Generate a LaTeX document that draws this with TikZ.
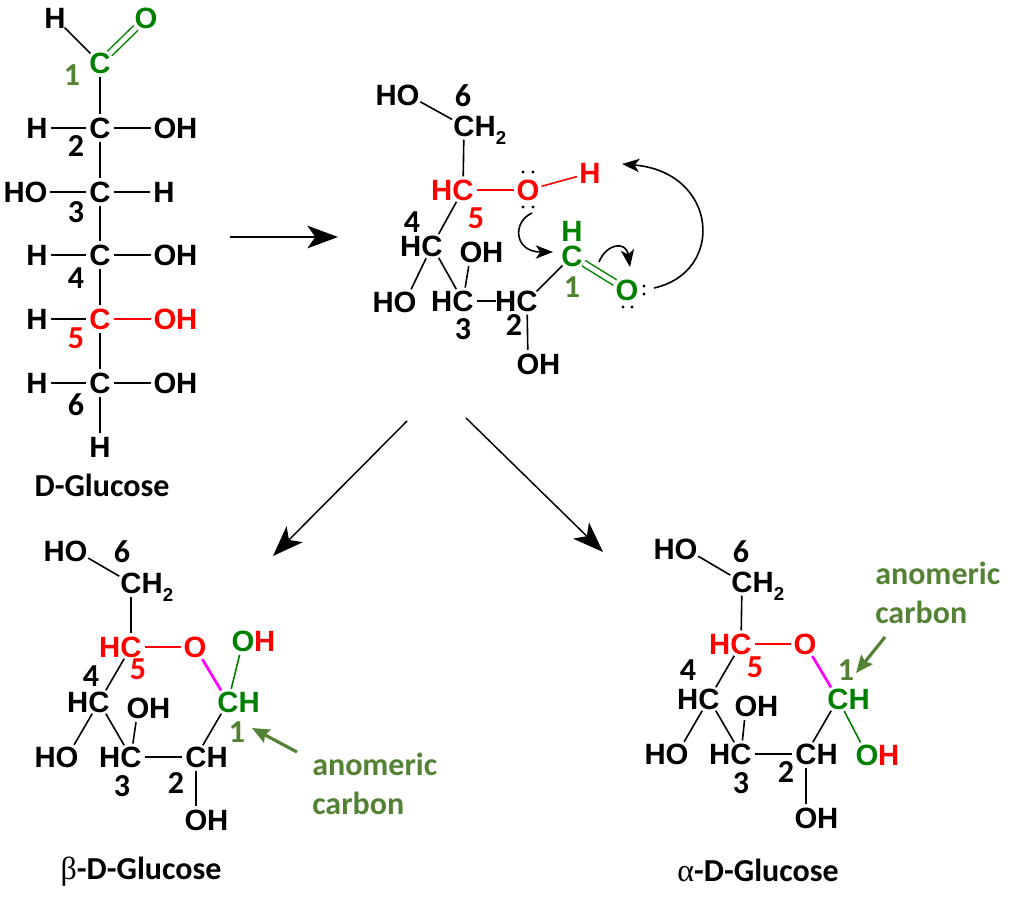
\documentclass[tikz,border=0pt]{standalone}
\usepackage{fontspec}
\usepackage{xcolor}
\usetikzlibrary{arrows.meta}
\setmainfont{Carlito}
\newfontfamily\atomfam{Liberation Sans}
\newfontfamily\greekfam{Liberation Serif}
\definecolor{chemgreen}{RGB}{0,128,0}
\definecolor{numgreen}{RGB}{84,130,53}
\definecolor{ringpink}{RGB}{255,0,255}
\tikzset{
  atomtext/.style={inner sep=0pt,outer sep=0pt,text height=15.7pt,text depth=0pt,
    font=\atomfam\bfseries\fontsize{22}{26}\selectfont},
  atom/.style={atomtext,circle,outer sep=-1pt,text=#1},
  atom/.default=black,
  Hl/.style={label={[atomtext,text=#1,label distance=-2.2pt]180:H}},
  Hl/.default=black,
  Hr/.style={label={[atomtext,text=#1,label distance=-2.2pt]0:H}},
  Hr/.default=black,
  CHtwo/.style={label={[atomtext,label distance=-2.2pt]0:H\raisebox{-6pt}{\fontsize{14}{16}\selectfont 2}}},
  num/.style={inner sep=0pt,text=#1,font=\bfseries\fontsize{24}{28}\selectfont},
  num/.default=black,
  glucose/.style={inner sep=0pt,font=\bfseries\fontsize{24}{28}\selectfont},
  anomeric/.style={anchor=west,inner sep=0pt,text=numgreen,font=\bfseries\fontsize{24}{28}\selectfont},
  bond/.style={line width=1.2pt,draw=#1},
  bond/.default=black,
  dbond/.style={line width=1.1pt,double=white,double distance=3.6pt,draw=#1},
  reaction/.style={line width=1.1pt,-{Stealth[length=23pt,width=17pt,inset=6pt]}},
  flow/.style={line width=1.2pt,-{Stealth[length=13pt,width=10pt,inset=3.5pt]}},
  pointer/.style={line width=2.4pt,draw=numgreen,-{Stealth[length=13pt,width=11pt,inset=2pt]}},
}
\begin{document}
\begin{tikzpicture}[x=0.75pt,y=-0.75pt]
  \useasboundingbox (0,0) rectangle (1024,909);

  % D-Glucose chain
  \node[atom=chemgreen] (c1) at (100,63) {C};
  \node[atom] (h1) at (55,18) {H};
  \node[atom=chemgreen] (o1) at (146,18) {O};
  \node[num=numgreen] (n1) at (72,75) {1};
  \foreach \n/\y/\col in {2/128/black,4/255/black,5/319/red,6/383/black}
  {
    \node[atom=\col] (c\n) at (100,\y) {C};
    \node[atom] (h\n) at (37,\y) {H};
    \node[atom=\col,Hr=\col] (o\n) at (165,\y) {O};
    \draw[bond] (h\n) -- (c\n);
    \draw[bond=\col] (c\n) -- (o\n);
  }
  \node[atom] (c3) at (100,192) {C};
  \node[atom,Hl] (o3) at (36,192) {O};
  \node[atom] (h3) at (164,192) {H};
  \draw[bond] (o3) -- (c3);
  \draw[bond] (c3) -- (h3);
  \node[atom] (c7) at (100,447) {H};
  \draw[bond] (h1) -- (c1);
  \draw[dbond=chemgreen] (c1) -- (o1);
  \foreach \a/\b in {1/2,2/3,3/4,4/5,5/6,6/7}
  {
    \draw[bond] (c\a) -- (c\b);
  }
  \node[num] (n2) at (76,146) {2};
  \node[num] (n3) at (76,212) {3};
  \node[num] (n4) at (76,278) {4};
  \node[num=red] (n5) at (76,338) {5};
  \node[num] (n6) at (76,405) {6};
  \node[glucose] (dglucose) at (102,485) {D-Glucose};

  % Reaction arrows
  \coordinate (ra) at (230,237);
  \coordinate (rb) at (338,237);
  \coordinate (rc) at (407,421);
  \coordinate (rd) at (273,556);
  \coordinate (re) at (466,418);
  \coordinate (rf) at (603,552);
  \draw[reaction] (ra) -- (rb);
  \draw[reaction] (rc) -- (rd);
  \draw[reaction] (re) -- (rf);

  % Open chain
  \node[atom,Hl] (bo6) at (408,95) {O};
  \node[atom,CHtwo] (bc6) at (464,126) {C};
  \node[atom=red,Hl=red] (bc5) at (463,190) {C};
  \node[atom=red] (bo5) at (528,190) {O};
  \node[atom=red] (bh5) at (590,173) {H};
  \node[atom,Hl] (bc4) at (432,246) {C};
  \node[atom,Hl] (bo4) at (405,302) {O};
  \node[atom,Hl] (bc3) at (463,301) {C};
  \node[atom,Hr] (bo3) at (471,252) {O};
  \node[atom,Hl] (bc2) at (527,301) {C};
  \node[atom,Hr] (bo2) at (528,364) {O};
  \node[atom=chemgreen] (bc1) at (572,256) {C};
  \node[atom=chemgreen] (bh1) at (572,231) {H};
  \node[atom=chemgreen] (bo1) at (627,290) {O};
  \draw[bond] (bo6) -- (bc6);
  \draw[bond] (bc6) -- (bc5);
  \draw[bond=red] (bc5) -- (bo5);
  \draw[bond=red] (bo5) -- (bh5);
  \draw[bond] (bc5) -- (bc4);
  \draw[bond] (bc4) -- (bo4);
  \draw[bond] (bc4) -- (bc3);
  \draw[bond] (bc3) -- (bo3);
  \draw[bond,shorten >=13pt] (bc3) -- (bc2);
  \draw[bond] (bc2) -- (bo2);
  \draw[bond] (bc2) -- (bc1);
  \draw[dbond=chemgreen] (bc1) -- (bo1);
  \foreach \x/\y in {523/172,533/172,523/207,533/207,644/286,644/294,623/307,632/307}
    \fill (\x,\y) circle (1.6);
  \coordinate (fa) at (654,288);
  \coordinate (fb) at (622,164);
  \coordinate (fc) at (532,213);
  \coordinate (fd) at (553,252);
  \coordinate (fe) at (599,262);
  \coordinate (ff) at (630,267);
  \draw[flow] (fa) .. controls (726,272) and (718,172) .. (fb);
  \draw[flow] (fc) .. controls (512,222) and (514,252) .. (fd);
  \draw[flow] (fe) .. controls (606,244) and (626,240) .. (ff);
  \node[num] (b6) at (463,96) {6};
  \node[num=red] (b5) at (476,218) {5};
  \node[num] (b4) at (412,222) {4};
  \node[num] (b3) at (463,329) {3};
  \node[num] (b2) at (514,325) {2};
  \node[num=numgreen] (b1) at (572,287) {1};

  % Beta ring
  \node[atom,Hl] (co6) at (76,551) {O};
  \node[atom,CHtwo] (cc6) at (131,583) {C};
  \node[atom=red,Hl=red] (cc5) at (131,647) {C};
  \node[atom=red] (co5) at (195,647) {O};
  \node[atom,Hl] (cc4) at (99,702) {C};
  \node[atom,Hl] (co4) at (67,757) {O};
  \node[atom,Hl] (cc3) at (131,757) {C};
  \node[atom,Hr] (co3) at (138,708) {O};
  \node[atom,Hr] (cc2) at (196,757) {C};
  \node[atom,Hr] (co2) at (196,820) {O};
  \node[atom=chemgreen,Hr=chemgreen] (cc1) at (228,702) {C};
  \node[atom=chemgreen,Hr=red] (co1) at (243,641) {O};
  \draw[bond] (co6) -- (cc6);
  \draw[bond] (cc6) -- (cc5);
  \draw[bond=red] (cc5) -- (co5);
  \draw[bond=ringpink,line width=2pt] (co5) -- (cc1);
  \draw[bond=chemgreen] (cc1) -- (co1);
  \draw[bond] (cc5) -- (cc4);
  \draw[bond] (cc4) -- (co4);
  \draw[bond] (cc4) -- (cc3);
  \draw[bond] (cc3) -- (co3);
  \draw[bond] (cc3) -- (cc2);
  \draw[bond] (cc2) -- (co2);
  \draw[bond] (cc2) -- (cc1);
  \node[num] (c6n) at (122,552) {6};
  \node[num=red] (c5n) at (138,669) {5};
  \node[num] (c4n) at (91,676) {4};
  \node[num] (c3n) at (122,786) {3};
  \node[num] (c2n) at (176,783) {2};
  \node[num=numgreen] (c1n) at (237,732) {1};
  \node[anomeric] (ctext) at (312,764) {anomeric};
  \node[anomeric] (ctextb) at (312,803) {carbon};
  \coordinate (pa) at (297,752);
  \coordinate (pb) at (252,728);
  \draw[pointer] (pa) -- (pb);
  \node[glucose] (bglucose) at (141,872) {{\greekfam\mdseries β}-D-Glucose};

  % Alpha ring
  \node[atom,Hl] (do6) at (686,549) {O};
  \node[atom,CHtwo] (dc6) at (742,582) {C};
  \node[atom=red,Hl=red] (dc5) at (741,644) {C};
  \node[atom=red] (do5) at (805,644) {O};
  \node[atom,Hl] (dc4) at (709,699) {C};
  \node[atom,Hl] (do4) at (677,754) {O};
  \node[atom,Hl] (dc3) at (741,754) {C};
  \node[atom,Hr] (do3) at (746,706) {O};
  \node[atom,Hr] (dc2) at (806,754) {C};
  \node[atom,Hr] (do2) at (806,818) {O};
  \node[atom=chemgreen,Hr=chemgreen] (dc1) at (838,699) {C};
  \node[atom=chemgreen,Hr=red] (do1) at (867,755) {O};
  \draw[bond] (do6) -- (dc6);
  \draw[bond] (dc6) -- (dc5);
  \draw[bond=red] (dc5) -- (do5);
  \draw[bond=ringpink,line width=2pt] (do5) -- (dc1);
  \draw[bond=chemgreen] (dc1) -- (do1);
  \draw[bond] (dc5) -- (dc4);
  \draw[bond] (dc4) -- (do4);
  \draw[bond] (dc4) -- (dc3);
  \draw[bond] (dc3) -- (do3);
  \draw[bond,line width=1.6pt] (dc3) -- (dc2);
  \draw[bond] (dc2) -- (do2);
  \draw[bond] (dc2) -- (dc1);
  \node[num] (d6n) at (741,552) {6};
  \node[num=red] (d5n) at (755,667) {5};
  \node[num] (d4n) at (688,670) {4};
  \node[num] (d3n) at (741,783) {3};
  \node[num] (d2n) at (786,772) {2};
  \node[num=numgreen] (d1n) at (846,670) {1};
  \node[anomeric] (dtext) at (875,573) {anomeric};
  \node[anomeric] (dtextb) at (875,612) {carbon};
  \coordinate (qa) at (885,637);
  \coordinate (qb) at (856,673);
  \draw[pointer] (qa) -- (qb);
  \node[glucose] (aglucose) at (758,870) {{\greekfam\mdseries α}-D-Glucose};
\end{tikzpicture}
\end{document}
